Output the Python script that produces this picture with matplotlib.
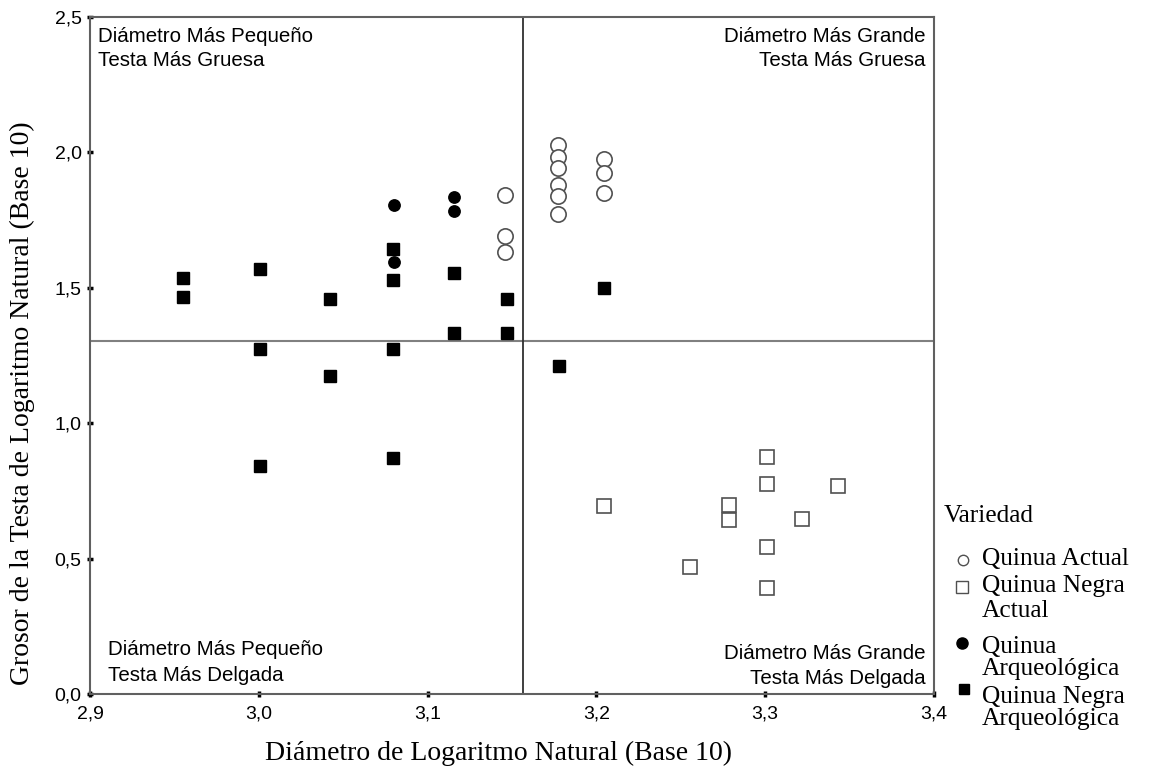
import matplotlib
matplotlib.use("Agg")
import matplotlib.pyplot as plt
from matplotlib.lines import Line2D

# ---- data ----
actual_x = [3.146, 3.146, 3.146, 3.177, 3.177, 3.177, 3.177, 3.177, 3.177, 3.2045, 3.2045, 3.2045]
actual_y = [1.843, 1.691, 1.632, 2.027, 1.983, 1.942, 1.880, 1.839, 1.772, 1.976, 1.924, 1.850]

negra_actual_x = [3.2045, 3.301, 3.301, 3.343, 3.2787, 3.2787, 3.322, 3.301, 3.2555, 3.301]
negra_actual_y = [0.694, 0.876, 0.775, 0.769, 0.698, 0.643, 0.646, 0.542, 0.470, 0.390]

arq_x = [3.080, 3.080, 3.1157, 3.1157]
arq_y = [1.806, 1.595, 1.835, 1.784]

negra_arq_x = [2.955, 2.955, 3.001, 3.001, 3.001, 3.042, 3.042, 3.0795, 3.0795,
               3.0795, 3.0795, 3.1157, 3.1157, 3.147, 3.147, 3.2045, 3.178]
negra_arq_y = [1.536, 1.466, 1.569, 1.274, 0.842, 1.459, 1.174, 1.643, 1.529,
               1.274, 0.871, 1.555, 1.333, 1.459, 1.333, 1.499, 1.211]

x_ticks = [2.9, 3.0, 3.1, 3.2, 3.3, 3.4]
y_ticks = [0.0, 0.5, 1.0, 1.5, 2.0, 2.5]
x_split = 3.1565
y_split = 1.303

quadrant_labels = [["Diámetro Más Pequeño", "Testa Más Gruesa"],
                   ["Diámetro Más Grande", "Testa Más Gruesa"],
                   ["Diámetro Más Pequeño", "Testa Más Delgada"],
                   ["Diámetro Más Grande", "Testa Más Delgada"]]
legend_title = "Variedad"
legend_labels = [["Quinua Actual"], ["Quinua Negra", "Actual"], ["Quinua", "Arqueológica"],
                 ["Quinua Negra", "Arqueológica"]]
xlabel = "Diámetro de Logaritmo Natural (Base 10)"
ylabel = "Grosor de la Testa de Logaritmo Natural (Base 10)"

# ---- figure ----
W, H = 1149, 770
L, R, T, B = 90, 934, 17, 694
fig = plt.figure(figsize=(W / 100, H / 100), dpi=100)
ax = fig.add_axes([L / W, 1 - B / H, (R - L) / W, (B - T) / H])

sans = "Liberation Sans"
serif = "Liberation Serif"
edge = "#505050"

ax.plot(negra_arq_x, negra_arq_y, ls="none", marker="s", ms=9.3, mfc="black", mec="black", zorder=3)
ax.plot(arq_x, arq_y, ls="none", marker="o", ms=8.2, mfc="black", mec="black", zorder=4)
ax.plot(actual_x, actual_y, ls="none", marker="o", ms=11, mfc="white", mec=edge, mew=1.2, zorder=3)
ax.plot(negra_actual_x, negra_actual_y, ls="none", marker="s", ms=10, mfc="white", mec=edge, mew=1.2, zorder=3)

ax.axhline(y_split, color="#808080", lw=1.5, zorder=2)
ax.axvline(x_split, color="#303030", lw=1.3, zorder=2)

ax.set_xlim(x_ticks[0], x_ticks[-1])
ax.set_ylim(y_ticks[0], y_ticks[-1])
ax.set_xticks(x_ticks)
ax.set_yticks(y_ticks)
ax.set_xticklabels([f"{v:.1f}".replace(".", ",") for v in x_ticks], fontfamily=sans, fontsize=14)
ax.set_yticklabels([f"{v:.1f}".replace(".", ",") for v in y_ticks], fontfamily=sans, fontsize=14)
ax.tick_params(direction="inout", length=4, width=2.5, color="black")
ax.tick_params(axis="x", pad=6)
ax.tick_params(axis="y", pad=4)
for s in ax.spines.values():
    s.set_color("#606060")
    s.set_linewidth(1.5)


def ax_x(px):
    return (px - L) / (R - L)


def ax_y(py):
    return (B - py) / (B - T)


ax.set_xlabel(xlabel, fontfamily=serif, fontsize=20)
ax.xaxis.label.set_va("baseline")
ax.xaxis.set_label_coords(ax_x(499), ax_y(760))
ax.set_ylabel(ylabel, fontfamily=serif, fontsize=20)
ax.yaxis.label.set_va("center")
ax.yaxis.set_label_coords(ax_x(22), ax_y(403))

qfs = 14.8
q_pos = [(98, "left", (42, 66)), (926, "right", (42, 66)),
         (108, "left", (655, 681)), (926, "right", (659, 684))]
for lines, (qx, ha, bys) in zip(quadrant_labels, q_pos):
    for line, by in zip(lines, bys):
        ax.text(ax_x(qx), ax_y(by), line, transform=ax.transAxes, ha=ha, va="baseline",
                fontfamily=sans, fontsize=qfs)

# ---- manual legend ----
def fx(px):
    return px / W


def fy(py):
    return 1 - py / H


lfs = 18.3
fig.text(fx(944), fy(522), legend_title, fontfamily=serif, fontsize=lfs, ha="left", va="baseline")
styles = [dict(marker="o", ms=7.5, mfc="white", mec=edge, mew=1.0),
          dict(marker="s", ms=8, mfc="white", mec=edge, mew=1.0),
          dict(marker="o", ms=8, mfc="black", mec="black"),
          dict(marker="s", ms=7, mfc="black", mec="black")]
marker_xy = [(963, 560), (962, 587), (962, 643), (964, 689)]
text_baselines = [[565], [592, 617], [653, 675], [703, 725]]
for st, (mx, my), bls, lab in zip(styles, marker_xy, text_baselines, legend_labels):
    fig.add_artist(Line2D([fx(mx)], [fy(my)], ls="none", transform=fig.transFigure, **st))
    for line, bl in zip(lab, bls):
        fig.text(fx(982), fy(bl), line, fontfamily=serif, fontsize=lfs, ha="left", va="baseline")

fig.savefig("out.png", dpi=100, facecolor="white")
